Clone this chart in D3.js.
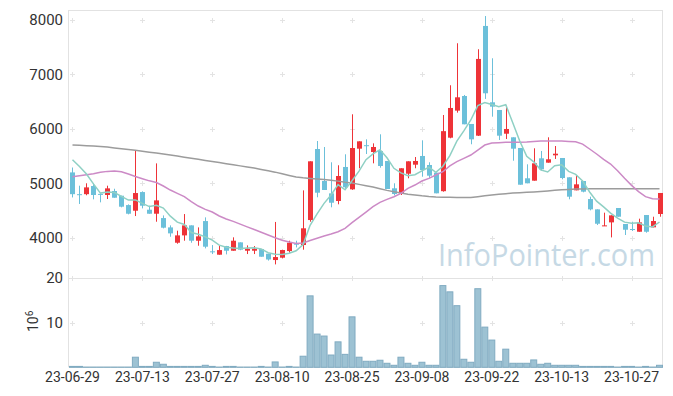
<!DOCTYPE html>
<html>
<head>
<meta charset="utf-8">
<script src="https://cdn.jsdelivr.net/npm/d3@7"></script>
<style>
  body { margin: 0; background: #fff; }
  svg { display: block; font-family: Roboto, "Noto Sans", sans-serif; }
</style>
</head>
<body>
<svg width="673" height="396"></svg>
<script>
// data
const dates = ['23-06-29','23-06-30','23-07-03','23-07-04','23-07-05','23-07-06','23-07-07','23-07-10','23-07-11','23-07-12',
    '23-07-13','23-07-14','23-07-17','23-07-18','23-07-19','23-07-20','23-07-21','23-07-24','23-07-25','23-07-26',
    '23-07-27','23-07-28','23-07-31','23-08-01','23-08-02','23-08-03','23-08-04','23-08-07','23-08-08','23-08-09',
    '23-08-10','23-08-11','23-08-14','23-08-16','23-08-17','23-08-18','23-08-21','23-08-22','23-08-23','23-08-24',
    '23-08-25','23-08-28','23-08-29','23-08-30','23-08-31','23-09-01','23-09-04','23-09-05','23-09-06','23-09-07',
    '23-09-08','23-09-11','23-09-12','23-09-13','23-09-14','23-09-15','23-09-18','23-09-19','23-09-20','23-09-21',
    '23-09-22','23-09-25','23-09-26','23-09-27','23-10-04','23-10-05','23-10-06','23-10-10','23-10-11','23-10-12',
    '23-10-13','23-10-16','23-10-17','23-10-18','23-10-19','23-10-20','23-10-23','23-10-24','23-10-25','23-10-26',
    '23-10-27','23-10-30','23-10-31','23-11-01','23-11-02'];

const open = [5200,4800,4800,4950,4805,4785,4858,4772,4600,4496,
    4839,4515,4441,4361,4190,3908,4043,4227,3945,4306,
    3750,3688,3847,3761,3915,3761,3761,3792,3706,3590,
    3633,3755,3890,3866,4325,5630,5042,4815,4675,5300,
    4889,5636,5700,5575,5594,5410,4908,4816,5176,5342,
    5502,5336,5195,4855,5838,6335,6604,6090,5875,7891,
    6488,6347,5911,5845,5649,5092,5048,5459,5379,5514,
    5465,5110,4871,5042,4711,4521,4215,4282,4546,4252,
    4160,4110,4417,4191,4436];
const high = [5290,4956,5000,5000,4805,4956,4900,4772,4613,5605,
    4852,4588,5366,4410,4227,4129,4435,4227,4190,4374,
    3865,3847,3850,4007,3915,3859,3847,3792,3706,4290,
    3780,3945,3945,4870,5404,5777,5667,5386,5331,5533,
    6268,5771,5808,5734,5900,5410,5000,5276,5404,5483,
    5790,5386,5195,6255,6801,7573,6623,6090,7463,8073,
    7297,6347,6426,5845,5649,5349,5643,5594,5845,5685,
    5465,5110,5152,5042,4754,4521,4460,4411,4546,4252,
    4294,4350,4417,4386,4822];
const low = [4740,4620,4780,4705,4650,4711,4735,4558,4429,4398,
    4539,4441,4294,4172,4018,3890,3945,3908,3853,3804,
    3700,3688,3694,3761,3770,3700,3700,3651,3580,3510,
    3620,3725,3822,3780,4294,4743,4877,4559,4614,4889,
    4880,5276,5538,5367,5287,4895,4779,4785,5092,5276,
    5121,5092,4816,4846,5827,6298,6084,5717,5869,6550,
    6224,5796,5814,5415,4974,5000,5048,5231,5379,5447,
    5073,4706,4871,4834,4503,4233,4215,4006,4386,4050,
    4123,4110,4092,4191,4386];
const close = [4800,4790,4925,4785,4800,4907,4735,4570,4441,4821,
    4588,4441,4686,4184,4080,4043,4227,3945,4025,3835,
    3743,3773,3761,3945,3780,3798,3798,3651,3600,3645,
    3774,3908,3880,4173,5404,4827,4877,4643,5134,4926,
    5648,5771,5690,5667,5318,4895,4803,5276,5404,5410,
    5244,5140,4816,5958,6384,6580,6084,5808,7285,6654,
    6408,5875,5998,5636,4974,5000,5367,5257,5441,5544,
    5097,4754,4981,4846,4521,4257,4227,4411,4386,4147,
    4150,4282,4110,4307,4822];

// volume, millions of shares
const volume = [0.2,0.2,0.05,0.05,0.05,0.05,0.05,0.05,0.05,2.26,
    0.2,0.2,1.13,0.68,0.2,0.2,0.2,0.2,0.2,0.45,
    0.2,0.05,0.2,0.2,0.05,0.05,0.05,0.2,0.05,1.2,
    0.05,0.2,0.05,2.48,16.0,7.44,7.0,2.75,5.7,2.9,
    11.3,2.26,1.35,1.35,1.58,0.9,0.45,2.26,0.9,0.45,
    1.13,0.45,0.45,18.3,16.9,13.8,1.8,1.13,17.6,9.0,
    6.1,1.35,4.06,0.9,0.9,0.9,1.65,0.68,0.9,0.45,
    0.45,0.45,0.45,0.2,0.2,0.2,0.2,0.2,0.05,0.2,
    0.2,0.05,0.2,0.05,0.45];

// moving averages
const ma5 = [5434,5310,5170,4990,4820,4841,4830,4759,4691,4695,
    4631,4572,4595,4544,4396,4287,4244,4096,4064,4015,
    3955,3864,3827,3811,3800,3811,3816,3794,3725,3698,
    3694,3716,3761,3876,4228,4438,4632,4785,4977,4881,
    5046,5224,5434,5540,5619,5468,5275,5192,5139,5158,
    5227,5295,5203,5314,5508,5776,5964,6163,6428,6482,
    6448,6406,6444,6114,5778,5497,5395,5247,5208,5322,
    5341,5219,5163,5044,4840,4672,4566,4452,4360,4286,
    4264,4275,4215,4199,4289];
const ma20 = [5121,5140,5158,5176,5201,5219,5225,5213,5170,5125,
    5085,5045,5015,4950,4876,4815,4754,4662,4582,4521,
    4472,4400,4345,4300,4250,4200,4150,4100,4050,4000,
    3955,3920,3895,3905,3950,3990,4031,4068,4110,4172,
    4276,4374,4472,4570,4650,4705,4754,4815,4907,4968,
    5042,5091,5152,5213,5320,5397,5458,5520,5611,5703,
    5740,5746,5752,5752,5752,5758,5770,5776,5776,5776,
    5776,5770,5764,5721,5630,5538,5440,5354,5232,5091,
    4962,4846,4754,4717,4711];
const ma120 = [5703,5698,5692,5685,5675,5665,5650,5635,5620,5605,
    5590,5572,5555,5537,5520,5500,5480,5460,5440,5420,
    5400,5380,5360,5340,5320,5300,5280,5255,5230,5205,
    5175,5145,5115,5100,5090,5080,5070,5055,5040,5020,
    5005,4980,4955,4930,4900,4870,4845,4820,4800,4785,
    4770,4758,4750,4745,4742,4740,4738,4740,4755,4770,
    4785,4800,4810,4820,4828,4835,4842,4850,4860,4870,
    4880,4888,4893,4896,4898,4898,4898,4898,4898,4899,
    4900,4900,4900,4900,4900];

const priceTicks = [4000,5000,6000,7000,8000];
const volTicks = [10,20];
const dateTicks = [0,10,20,30,40,50,60,70,80];

function draw() {
    var svg = d3.select("svg");
    const left = 69, right = 663, top = 10, mid = 278, bottom = 367.3;
    const n = dates.length;

    var x = d3.scaleBand().domain(d3.range(n)).range([left, right]).padding(0);
    const bw = x.bandwidth();
    const xc = i => x(i) + bw / 2;
    var yP = d3.scaleLinear().domain([3260, 8184]).range([mid, top]);
    var yV = d3.scaleLinear().domain([0, 20]).range([bottom, mid]);

    const up = '#ee3338', down = '#6cc0da', frame = '#e2e2e2';

    // watermark
    svg.append('text')
        .attr('x', 438).attr('y', 266)
        .attr('textLength', 217).attr('lengthAdjust', 'spacingAndGlyphs')
        .style('font-family', '"Open Sans", "Noto Sans", sans-serif')
        .style('font-size', '31px')
        .style('fill', '#c6d9e5')
        .text('InfoPointer.com');

    // frame lines
    var fr = svg.append('g').style('stroke', frame).style('stroke-width', 1);
    fr.append('line').attr('x1', left).attr('x2', right).attr('y1', top + .5).attr('y2', top + .5);
    fr.append('line').attr('x1', left).attr('x2', right).attr('y1', mid + .5).attr('y2', mid + .5);
    fr.append('line').attr('x1', left).attr('x2', right).attr('y1', bottom).attr('y2', bottom);
    fr.append('line').attr('x1', left - .5).attr('x2', left - .5).attr('y1', top).attr('y2', bottom);
    fr.append('line').attr('x1', right - .5).attr('x2', right - .5).attr('y1', top).attr('y2', bottom);

    // "+" grid marks
    let marks = [];
    dateTicks.forEach(i => {
        priceTicks.forEach(p => marks.push([xc(i), yP(p)]));
        volTicks.forEach(v => marks.push([xc(i), yV(v)]));
    });
    svg.append('g').selectAll('path').data(marks).enter().append('path')
        .attr('d', d => `M${Math.round(d[0]) - 2},${Math.round(d[1]) + .5}h5M${Math.round(d[0]) + .5},${Math.round(d[1]) - 2}v5`)
        .style('stroke', '#e3e3e3').style('stroke-width', 1).style('fill', 'none');

    // volume bars
    svg.append('g').selectAll('rect').data(volume).enter().append('rect')
        .attr('x', (d, i) => x(i) + .5)
        .attr('width', bw - 1)
        .attr('y', d => yV(d))
        .attr('height', d => bottom - yV(d))
        .style('fill', '#9dc2d3')
        .style('stroke', '#80abc1')
        .style('stroke-width', 1);

    // candles
    var cg = svg.append('g').selectAll('g').data(d3.range(n)).enter().append('g')
        .style('stroke', i => close[i] >= open[i] ? up : down)
        .style('fill', i => close[i] >= open[i] ? up : down);
    cg.append('line')
        .attr('x1', i => Math.round(xc(i)) + .5).attr('x2', i => Math.round(xc(i)) + .5)
        .attr('y1', i => yP(high[i])).attr('y2', i => yP(low[i]))
        .style('stroke-width', 1);
    cg.append('rect')
        .attr('x', i => Math.round(xc(i)) - 2)
        .attr('width', 5)
        .attr('y', i => yP(Math.max(open[i], close[i])))
        .attr('height', i => Math.max(1, yP(Math.min(open[i], close[i])) - yP(Math.max(open[i], close[i]))))
        .style('stroke', 'none');

    // moving average lines
    const lines = [[ma120, '#9c9c9c'], [ma20, '#cc8ac6'], [ma5, '#8fd0c4']];
    lines.forEach(l => {
        svg.append('path').datum(l[0])
            .attr('d', d3.line().x((d, i) => xc(i)).y(d => yP(d)))
            .style('fill', 'none').style('stroke', l[1]).style('stroke-width', 1.5);
    });

    // axes
    var ay = svg.append('g').attr('transform', `translate(${left},0)`)
        .call(d3.axisLeft(yP).tickValues(priceTicks).tickSize(0).tickPadding(6).tickFormat(d3.format('d')));
    var av = svg.append('g').attr('transform', `translate(${left},0)`)
        .call(d3.axisLeft(yV).tickValues(volTicks).tickSize(0).tickPadding(6));
    var ax = svg.append('g').attr('transform', `translate(0,${bottom})`)
        .call(d3.axisBottom(x).tickValues(dateTicks).tickSize(0).tickPadding(5).tickFormat(i => dates[i]));
    [ay, av, ax].forEach(a => {
        a.select('.domain').remove();
        a.selectAll('text').style('font-size', '14px').style('fill', '#333')
            .style('font-family', 'Roboto, "Noto Sans", sans-serif');
    });
    ay.selectAll('text').style('font-size', '15px');
    av.selectAll('text').style('font-size', '15px');

    // unit label
    var ul = svg.append('text').attr('transform', 'translate(38,332) rotate(-90)')
        .style('font-size', '14px').style('fill', '#333');
    ul.append('tspan').text('10');
    ul.append('tspan').attr('dy', '-0.5em').style('font-size', '10px').text('6');
}

draw();
</script>
</body>
</html>
